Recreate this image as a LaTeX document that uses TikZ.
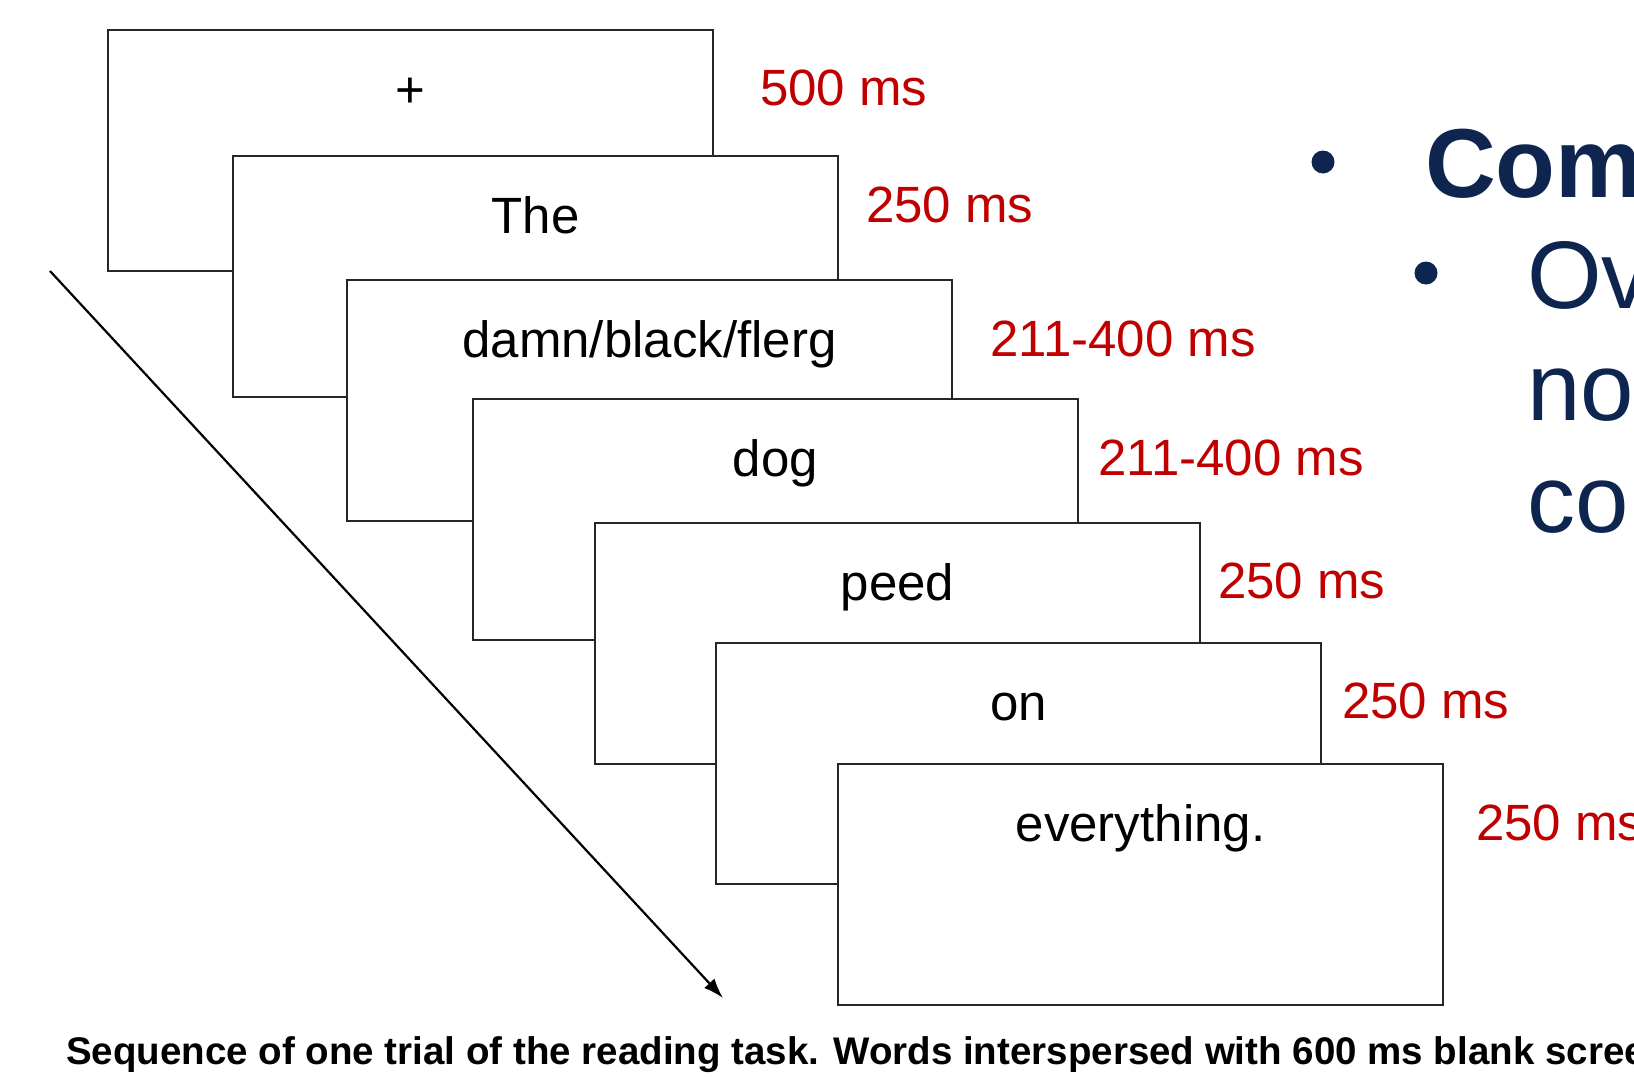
\documentclass[tikz,border=0pt]{standalone}
\usepackage{fontspec}
\setmainfont{Liberation Sans}
\usetikzlibrary{arrows.meta}
\definecolor{msred}{HTML}{C00000}
\definecolor{slidenavy}{HTML}{0E2550}

\begin{document}
\begin{tikzpicture}[x=1pt, y=-1pt,
		screen/.style={draw=black!85, line width=1.8pt, fill=white, rectangle, anchor=north west,
			minimum width=605pt, minimum height=241pt, inner sep=0pt, outer sep=0pt},
		word/.style={anchor=base, inner sep=0pt, font=\fontsize{51}{60}\selectfont},
		dur/.style={anchor=west, inner sep=0pt, text=msred, font=\fontsize{51}{60}\selectfont},
		bullet/.style={circle, fill=slidenavy, inner sep=0pt, minimum size=23pt},
		slide/.style={anchor=base west, inner sep=0pt, text=slidenavy, font=\fontsize{96}{112}\selectfont}]
		%%%%% START %%%%%
		
		\useasboundingbox (0, 0) rectangle (1634, 1079);
		\clip (0, 0) rectangle (1634, 1079);
		
		% time arrow
		\coordinate (tstart) at (50, 271);
		\coordinate (tend) at (723, 998);
		\draw[line width=2.2pt, -{Latex[length=20pt, width=14pt]}] (tstart) -- (tend);
		
		% screens
		\node[screen] (s1) at (108, 30) {};
		\node[word] (w1) at ([yshift=-77pt]s1.north) {+};
		\node[screen] (s2) at (233, 156) {};
		\node[word] (w2) at ([yshift=-77pt]s2.north) {The};
		\node[screen] (s3) at (347, 280) {};
		\node[word] (w3) at ([yshift=-77pt]s3.north) {damn/black/flerg};
		\node[screen] (s4) at (473, 399) {};
		\node[word] (w4) at ([yshift=-77pt]s4.north) {dog};
		\node[screen] (s5) at (595, 523) {};
		\node[word] (w5) at ([yshift=-77pt]s5.north) {peed};
		\node[screen] (s6) at (716, 643) {};
		\node[word] (w6) at ([yshift=-77pt]s6.north) {on};
		\node[screen] (s7) at (838, 764) {};
		\node[word] (w7) at ([yshift=-77pt]s7.north) {everything.};
		
		% durations
		\node[dur] (d1) at (760, 88) {500 ms};
		\node[dur] (d2) at (866, 205) {250 ms};
		\node[dur] (d3) at (990, 339) {211-400 ms};
		\node[dur] (d4) at (1098, 458) {211-400 ms};
		\node[dur] (d5) at (1218, 581) {250 ms};
		\node[dur] (d6) at (1342, 701) {250 ms};
		\node[dur] (d7) at (1476, 823) {250 ms};
		
		% slide text (cut off)
		\node[bullet] (b1) at (1323, 162) {};
		\node[slide, font=\bfseries\fontsize{98}{112}\selectfont] (t1) at (1425, 197) {Com};
		\node[bullet] (b2) at (1426, 273) {};
		\node[slide] (t2) at (1527, 308) {Ov};
		\node[slide] (t3) at (1527, 420) {no};
		\node[slide] (t4) at (1527, 532) {co};
		
		% caption
		\node[anchor=base west, inner sep=0pt, font=\bfseries\fontsize{38.5}{44}\selectfont] (cap) at (66, 1064)
			{Sequence of one trial of the reading task. Words interspersed with 600 ms blank scree};
		
		%%%%% END %%%%%
	\end{tikzpicture}
\end{document}
